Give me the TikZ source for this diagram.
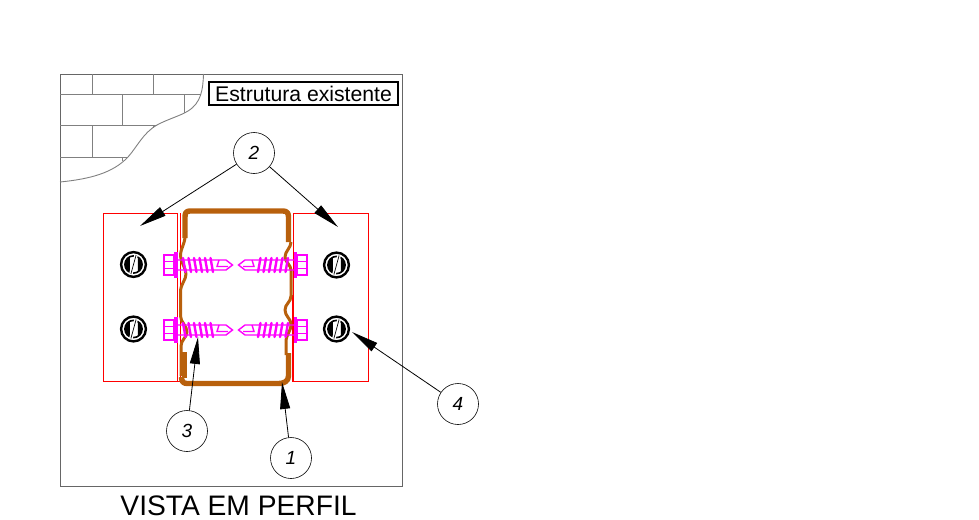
\documentclass[tikz,border=0pt]{standalone}
\usepackage{fontspec}
\usepackage{xcolor}
\usetikzlibrary{arrows.meta}
\setmainfont{Liberation Sans}
\definecolor{perfilcor}{RGB}{184,96,12}
\definecolor{parafusocor}{RGB}{255,0,255}
\tikzset{
	quadro/.style={draw=black!60,line width=0.9pt},
	tijolo/.style={draw=black!50,line width=0.9pt},
	chapa/.style={draw=red,line width=0.9pt},
	perfil/.style={draw=perfilcor,line width=5.4pt,line join=round},
	dobra/.style={draw=perfilcor,line width=3pt,line join=round},
	parafuso/.style={draw=parafusocor,line width=1.4pt},
	balao/.style={circle,draw=black,line width=0.6pt,minimum size=41pt,inner sep=0pt,font=\fontsize{19}{19}\selectfont\itshape},
	seta/.style={draw=black,line width=0.8pt,-{Triangle[length=27pt,width=10pt]}}
}
% parafuso: x, y, sentido
\newcommand{\parafusoauto}[3]{
	\begin{scope}[shift={(#1,#2)},xscale=#3]
		\draw[parafuso] (0,-10) rectangle (10,10);
		\draw[parafuso] (0,-3.5) -- (10,-3.5) (0,3.5) -- (10,3.5);
		\fill[parafusocor] (10,-13) rectangle (13.5,13);
		\draw[parafuso] (13,-5) -- (62,-5) -- (68.5,0) -- (62,5) -- (13,5);
		\draw[parafuso] (55,-5) -- (53,1.5) -- (64,1.5);
		\foreach \t in {19,24.5,...,49}
			\draw[parafuso,line width=2.4pt,line cap=round] (\t,-7) -- (\t+2.5,7);
	\end{scope}
}
% chumbador: x, y
\newcommand{\chumbador}[2]{
	\begin{scope}[shift={(#1,#2)}]
		\draw[black,line width=2.4pt] (0,0) circle (12.4);
		\draw[black,line width=1.6pt] (0,0) circle (8.6);
		\fill[black] (-3.6,-7.6) arc (245:115:8.4) -- cycle;
		\fill[black] (4.4,-7) arc (-58:58:8.4) -- cycle;
		\draw[white,line width=3.6pt] (-2.6,9.5) -- (2.6,-9.5);
		\draw[black,line width=0.7pt] (-2.6,9.5) -- (2.6,-9.5);
	\end{scope}
}
\begin{document}
\begin{tikzpicture}[x=1pt,y=-1pt]
	\useasboundingbox (0,0) rectangle (979,519);
	% quadro e alvenaria
	\draw[quadro] (60,74) rectangle (402,486);
	\draw[tijolo] (60,94) -- (201,94);
	\draw[tijolo] (60,125) -- (157,125);
	\draw[tijolo] (60,157) -- (128,157);
	\draw[tijolo] (92,74) -- (92,94) (153,74) -- (153,94);
	\draw[tijolo] (122,94) -- (122,125) (184,94) -- (184,113);
	\draw[tijolo] (92,125) -- (92,157) (153,125) -- (153,128);
	\draw[tijolo] (122,157) -- (122,161);
	\draw[tijolo] (60,182) .. controls (90,179) and (113,173) .. (128,157)
		.. controls (137,147) and (143,133) .. (157,125)
		.. controls (168,119) and (180,116) .. (188,111)
		.. controls (201,103) and (203,90) .. (203.5,74);
	% chapas
	\draw[chapa] (103,213) rectangle (177.5,381);
	\draw[chapa] (180.5,213) -- (180.5,381) -- (177.5,381);
	\draw[chapa] (293.5,213) rectangle (368,381);
	\draw[chapa] (292,295) -- (292,381) -- (293.5,381);
	% perfil
	\draw[perfil] (185,238) -- (185,217) .. controls (185,213) and (186,211) .. (190,211)
		-- (283,211) .. controls (287,211) and (288.5,213) .. (288.5,217) -- (288.5,242);
	\draw[dobra] (185,236) .. controls (185,244) and (180.5,248) .. (180.5,256)
		.. controls (180.5,262) and (186,268) .. (186,274)
		.. controls (186,280) and (180.5,284) .. (180.5,292) -- (180.5,316)
		.. controls (180.5,322) and (187,326) .. (187,332)
		.. controls (187,337) and (181,340) .. (181,346) -- (181,376);
	\draw[dobra] (291,242) .. controls (291,248) and (285,251) .. (285,257)
		.. controls (285,262) and (291,265) .. (291,270) -- (291,296)
		.. controls (291,302) and (285,304) .. (285,310)
		.. controls (285,316) and (291,319) .. (291,324)
		.. controls (291,332) and (286,334) .. (286,342) -- (286,355);
	\draw[perfil] (184.5,352) -- (184.5,378);
	\draw[perfil] (181.5,377) .. controls (181.5,381) and (183,383.5) .. (187,383.5)
		-- (279,383.5) .. controls (284,383.5) and (288.5,381) .. (288.5,376) -- (288.5,353);
	% parafusos e chumbadores
	\parafusoauto{164}{265}{1}
	\parafusoauto{164}{330}{1}
	\parafusoauto{307}{265}{-1}
	\parafusoauto{307}{330}{-1}
	\chumbador{133.5}{264.5}
	\chumbador{133.5}{329}
	\chumbador{336.5}{265}
	\chumbador{336.5}{329}
	% textos
	\node[draw=black,line width=1.1pt,minimum width=189pt,minimum height=23pt,inner sep=0pt,fill=white,font=\fontsize{21.2}{21}\selectfont] (rotulo) at (303.5,93.5) {Estrutura existente};
	\node[font=\fontsize{28.2}{28}\selectfont] (titulo) at (238.5,506) {VISTA EM PERFIL};
	% baloes
	\node[balao] (b2) at (254,153) {2};
	\node[balao] (b3) at (187,431) {3};
	\node[balao] (b1) at (291,458) {1};
	\node[balao] (b4) at (458,404) {4};
	\coordinate (p2a) at (140,226);
	\coordinate (p2b) at (338,227);
	\coordinate (p3) at (198,337);
	\coordinate (p1) at (282,382);
	\coordinate (p4) at (352,332);
	\draw[seta] (b2) -- (p2a);
	\draw[seta] (b2) -- (p2b);
	\draw[seta] (b3) -- (p3);
	\draw[seta] (b1) -- (p1);
	\draw[seta] (b4) -- (p4);
\end{tikzpicture}
\end{document}
